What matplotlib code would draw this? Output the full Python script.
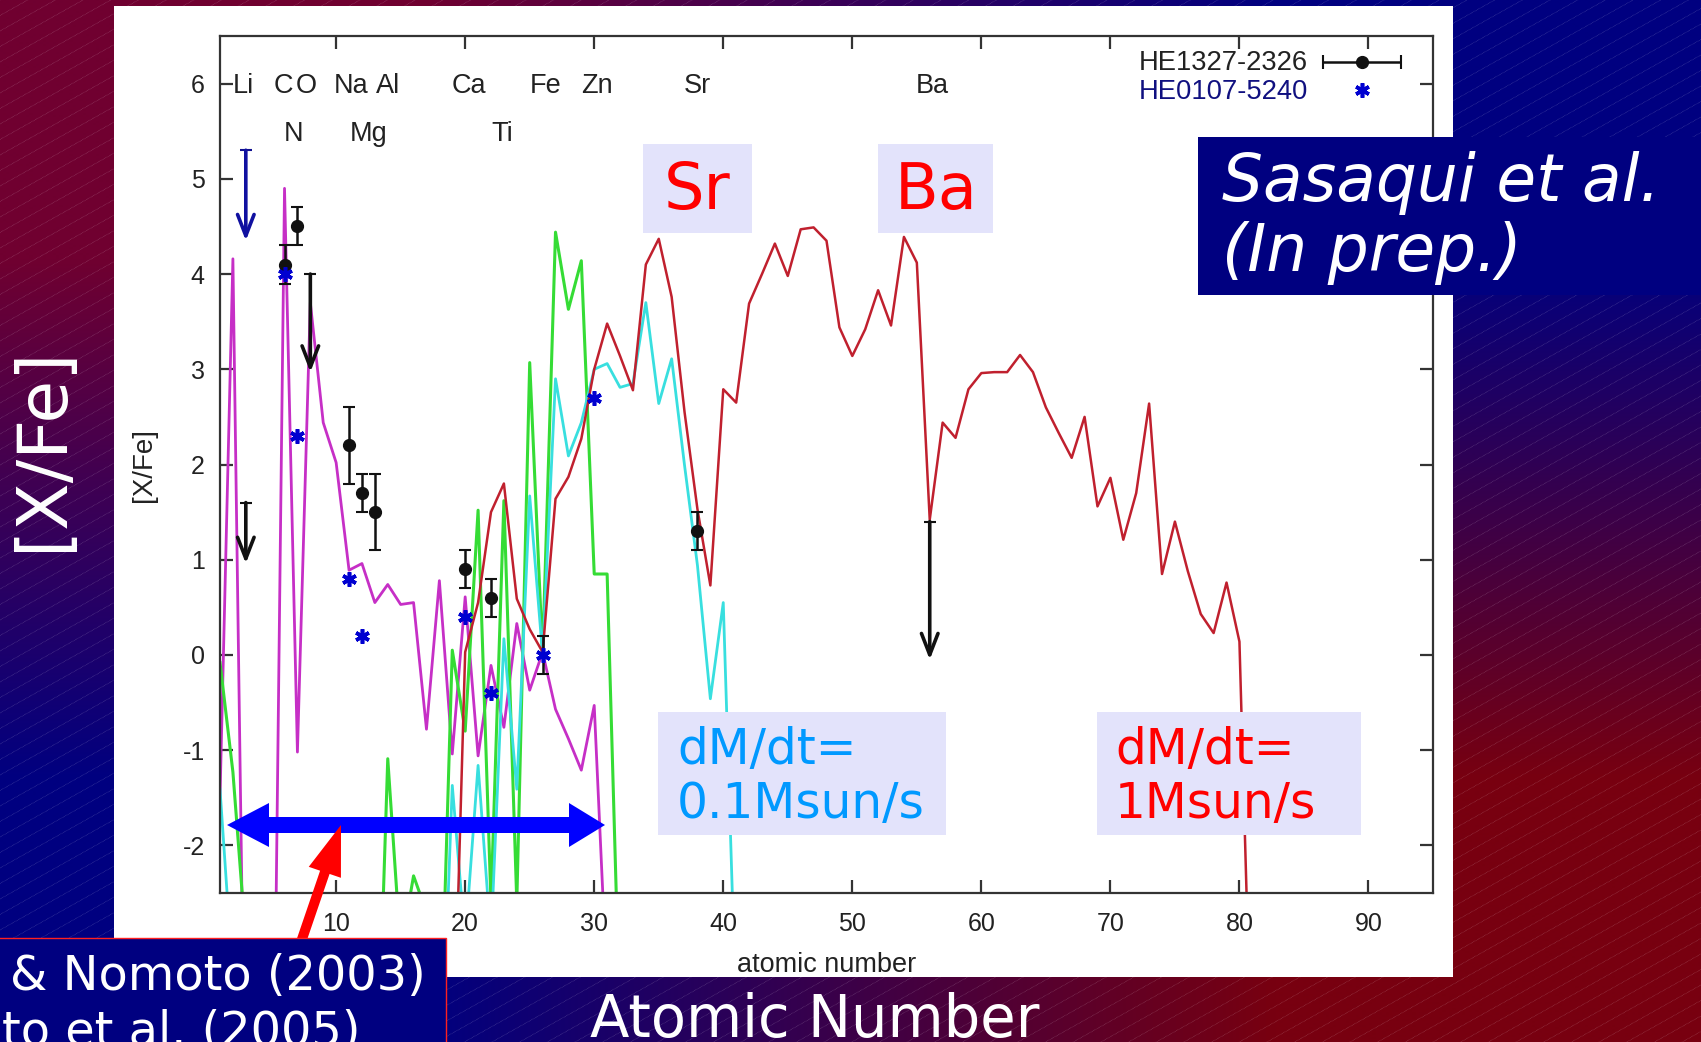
import numpy as np
import matplotlib
matplotlib.use("Agg")
import matplotlib.pyplot as plt
from matplotlib.collections import LineCollection
from matplotlib.patches import FancyArrow, Rectangle

""" Values read off the slide """
nan = float("nan")

magenta_z = list(range(1, 32))
magenta_v = [-1.5, 4.16, -5.4, -7.0, -6.6, 4.9, -1.02, 3.7, 2.44, 2.02, 0.89, 0.96, 0.55, 0.74, 0.53, 0.55,
             -0.78, 0.78, -1.04, 0.61, -1.06, -0.11, -0.76, 0.33, -0.37, 0.03, -0.57, -0.88, -1.21, -0.53, -3.5]

green_z = list(range(1, 33))
green_v = [-0.08, -1.23, -3.0, nan, nan, nan, nan, nan, nan, nan, nan, nan, -5.3, -1.09, -3.1, -2.32,
           -2.7, -4.5, 0.05, -0.8, 1.52, -2.6, 1.62, -2.6, 3.07, 0.0, 4.44, 3.63, 4.14, 0.85, 0.85, -3.9]

cyan_z = list(range(1, 42))
cyan_v = [-1.41, -3.4, nan, nan, nan, nan, nan, nan, nan, nan, nan, nan, nan, nan, nan, nan, nan,
          -5.0, -1.37, -3.0, -1.16, -3.0, 0.17, -1.41, 1.67, 0.0, 2.9, 2.09, 2.44, 3.0, 3.06, 2.81, 2.85,
          3.7, 2.64, 3.11, 1.99, 0.94, -0.46, 0.55, -3.8]

red_z = list(range(19, 82))
red_v = [-4.7, 0.03, 0.55, 1.5, 1.8, 0.59, 0.27, 0.03, 1.64, 1.87, 2.27, 3.0, 3.48, 3.14, 2.78, 4.1, 4.37,
         3.76, 2.55, 1.53, 0.73, 2.79, 2.65, 3.69, 4.0, 4.32, 3.98, 4.47, 4.49, 4.35, 3.44, 3.14, 3.42, 3.83,
         3.46, 4.39, 4.12, 1.42, 2.44, 2.28, 2.79, 2.96, 2.97, 2.97, 3.15, 2.97, 2.6, 2.33, 2.07, 2.5, 1.56,
         1.86, 1.21, 1.7, 2.64, 0.85, 1.4, 0.88, 0.43, 0.23, 0.76, 0.14, -4.66]

he1327_z = [6, 7, 11, 12, 13, 20, 22, 38]
he1327_v = [4.1, 4.5, 2.2, 1.7, 1.5, 0.9, 0.6, 1.3]
he1327_e = [0.2, 0.2, 0.4, 0.2, 0.4, 0.2, 0.2, 0.2]
# iron sits behind the blue star, only its bar shows
he1327_fe_z = [26]
he1327_fe_v = [0.0]
he1327_fe_e = [0.2]

limit_z = [3, 8, 56]
limit_top = [1.6, 4.0, 1.4]
limit_tip = [0.96, 2.97, -0.05]

he0107_z = [6, 7, 11, 12, 20, 22, 26, 30]
he0107_v = [4.0, 2.3, 0.8, 0.2, 0.4, -0.4, 0.0, 2.7]
he0107_limit_z = 3
he0107_limit_top = 5.3
he0107_limit_tip = 4.35

element_names = ["Li", "C", "O", "N", "Na", "Al", "Mg", "Ca", "Ti", "Fe", "Zn", "Sr", "Ba"]
element_z = [2.8, 5.9, 7.7, 6.7, 11.2, 14.0, 12.5, 20.3, 22.9, 26.2, 30.2, 38.0, 56.2]
element_y = [5.97, 5.97, 5.97, 5.47, 5.97, 5.97, 5.47, 5.97, 5.47, 5.97, 5.97, 5.97, 5.97]

x_ticks = [10, 20, 30, 40, 50, 60, 70, 80, 90]
y_ticks = [-2, -1, 0, 1, 2, 3, 4, 5, 6]

W, H = 1701, 1042
plt.rcParams['font.family'] = ['DejaVu Sans']
plt.rcParams['axes.unicode_minus'] = False
fig = plt.figure(figsize=(W / 100, H / 100), dpi=100)

# slide background, pixel coordinates
bg = fig.add_axes([0, 0, 1, 1], zorder=0)
bg.set_xlim(0, W)
bg.set_ylim(H, 0)
bg.axis("off")
corners = np.array([[[0x70, 0x00, 0x30], [0x00, 0x00, 0x80]],
                    [[0x00, 0x00, 0x80], [0x78, 0x00, 0x10]]], dtype=float) / 255
bg.imshow(corners, extent=(0, W, H, 0), aspect="auto", interpolation="bilinear")
stripes = [[(0, c), (W, c - 0.56 * W)] for c in np.arange(0, H + 0.56 * W, 15.5)]
bg.add_collection(LineCollection(stripes, colors="#ffffff", linewidths=0.5, alpha=0.25, linestyles=(0, (1, 1))))
bg.set_xlim(0, W)
bg.set_ylim(H, 0)
bg.add_patch(Rectangle((114, 6), 1339, 971, color="white", lw=0))

# the gnuplot panel
ax = fig.add_axes([220 / W, 1 - 893 / H, (1433 - 220) / W, (893 - 36) / H], zorder=1)
ax.set_xlim(1, 95)
ax.set_ylim(-2.5, 6.5)
ax.set_facecolor("white")
sans = "Liberation Sans"
ax.plot(magenta_z, magenta_v, color="#c62fc6", lw=2.0)
ax.plot(green_z, green_v, color="#35dc35", lw=2.2)
ax.plot(cyan_z, cyan_v, color="#38dfdf", lw=2.0)
ax.plot(red_z, red_v, color="#c0202e", lw=1.8)

ax.errorbar(he1327_z, he1327_v, yerr=he1327_e, fmt="o", color="#111111", ms=8.5, capsize=4.5, elinewidth=1.8,
            capthick=1.5, zorder=5)
ax.errorbar(he1327_fe_z, he1327_fe_v, yerr=he1327_fe_e, fmt="none", ecolor="#111111", capsize=4.5, elinewidth=1.8,
            capthick=1.5, zorder=5)
ax.plot(he0107_z, he0107_v, ls="none", marker=(6, 2, 0), color="#0000d0", ms=10.5, mew=2.6, zorder=6)

for z, top_v, tip in zip(limit_z, limit_top, limit_tip):
    ax.plot([z], [top_v], marker="_", color="#111111", ms=9, mew=1.5, zorder=5)
    ax.annotate("", xy=(z, tip), xytext=(z, top_v), zorder=5,
                arrowprops=dict(arrowstyle="->,head_length=0.9,head_width=0.35", color="#111111", lw=2.6,
                                shrinkA=0, shrinkB=0, mutation_scale=17))
ax.plot([he0107_limit_z], [he0107_limit_top], marker="_", color="#101090", ms=9, mew=1.5, zorder=5)
ax.annotate("", xy=(he0107_limit_z, he0107_limit_tip), xytext=(he0107_limit_z, he0107_limit_top), zorder=5,
            arrowprops=dict(arrowstyle="->,head_length=0.9,head_width=0.35", color="#1010a0", lw=2.6,
                            shrinkA=0, shrinkB=0, mutation_scale=17))

for name, z, y in zip(element_names, element_z, element_y):
    ax.text(z, y, name, ha="center", va="center", fontsize=19.5, family=sans, color="#222222")

ax.set_xticks(x_ticks)
ax.set_yticks(y_ticks)
ax.tick_params(direction="in", length=9.5, width=1.6, top=True, right=True, labelsize=18, color="#333333",
               labelcolor="#222222")
ax.tick_params(axis="x", pad=14)
ax.tick_params(axis="y", pad=11)
for lab in ax.get_xticklabels() + ax.get_yticklabels():
    lab.set_family(sans)
for s in ax.spines.values():
    s.set_linewidth(1.6)
    s.set_color("#333333")
ax.set_xlabel("atomic number", fontsize=19.5, family=sans, color="#222222", labelpad=11)
ax.set_ylabel("[X/Fe]", fontsize=20, family=sans, color="#222222", labelpad=18)

# things pasted on top of the slide, pixel coordinates again
top = fig.add_axes([0, 0, 1, 1], zorder=2)
top.set_xlim(0, W)
top.set_ylim(H, 0)
top.axis("off")
top.patch.set_alpha(0)

# legend
top.text(1308, 63, "HE1327-2326", ha="right", va="center", fontsize=19.7, family=sans, color="#222222")
top.text(1308, 92, "HE0107-5240", ha="right", va="center", fontsize=19.7, family=sans, color="#101080")
top.errorbar([1362], [62], xerr=[39], fmt="o", color="#111111", ms=8.5, capsize=5, elinewidth=1.8, capthick=1.5)
top.plot([1362], [90], ls="none", marker=(6, 2, 0), color="#0000d0", ms=10.5, mew=2.6)

lavender = "#e3e3fb"
for x0, y0, x1, y1 in [(643, 144, 752, 233), (878, 144, 993, 233), (658, 712, 946, 835), (1097, 712, 1361, 835)]:
    top.add_patch(Rectangle((x0, y0), x1 - x0, y1 - y0, color=lavender, lw=0))
top.text(697, 191, "Sr", color="#ff0000", fontsize=46, ha="center", va="center")
top.text(936, 191, "Ba", color="#ff0000", fontsize=46, ha="center", va="center")
top.text(677, 750, "dM/dt=", color="#0099ff", fontsize=35, ha="left", va="center")
top.text(677, 804, "0.1Msun/s", color="#0099ff", fontsize=35, ha="left", va="center")
top.text(1115, 750, "dM/dt=", color="#ff0000", fontsize=35, ha="left", va="center")
top.text(1115, 804, "1Msun/s", color="#ff0000", fontsize=35, ha="left", va="center")

navy = "#000080"
top.add_patch(Rectangle((1198, 137), W - 1198, 158, color=navy, lw=0))
top.text(1222, 183, "Sasaqui et al.", color="white", fontsize=46.5, style="italic", ha="left", va="center")
top.text(1222, 253, "(In prep.)", color="white", fontsize=46.5, style="italic", ha="left", va="center")

# blue range arrow and the red pointer
top.add_patch(FancyArrow(416, 825, -189, 0, width=16, head_width=44, head_length=42, length_includes_head=True,
                         color="#0000ff", lw=0))
top.add_patch(FancyArrow(416, 825, 189, 0, width=16, head_width=44, head_length=36, length_includes_head=True,
                         color="#0000ff", lw=0))
top.add_patch(FancyArrow(300, 945, 41, -120, width=10, head_width=34, head_length=50, length_includes_head=True,
                         color="#ff0000", lw=0))

top.add_patch(Rectangle((-5, 938), 451, 120, facecolor=navy, edgecolor="#ff2020", lw=1))
top.text(426, 977, "& Nomoto (2003)", color="white", fontsize=34.5, ha="right", va="center", clip_on=True)
top.text(360, 1032, "to et al. (2005)", color="white", fontsize=34.5, ha="right", va="center", clip_on=True)

top.text(815, 1020, "Atomic Number", color="white", fontsize=41.5, ha="center", va="center")
top.text(42, 449, "[X/Fe]", color="white", fontsize=50, rotation=90, ha="center", va="center")

plt.savefig("out.png", dpi=100)
